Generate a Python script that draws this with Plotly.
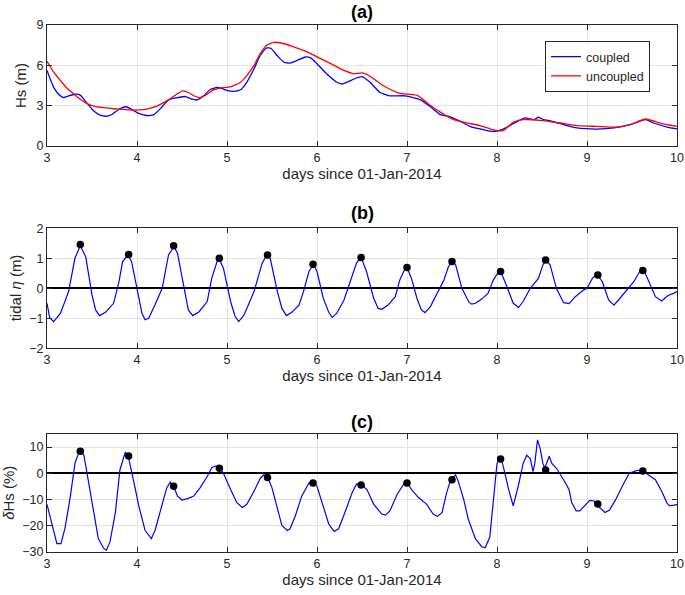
import plotly.graph_objects as go

# panel (a): significant wave height
hs_cpl_day = [3.0, 3.074, 3.13, 3.185, 3.24, 3.31, 3.37, 3.44, 3.52, 3.59, 3.67, 3.72, 3.81, 3.88,
              3.94, 4.02, 4.11, 4.19, 4.28, 4.35, 4.44, 4.54, 4.61, 4.67, 4.74, 4.81, 4.89, 4.94,
              5.0, 5.07, 5.15, 5.22, 5.3, 5.37, 5.44, 5.49, 5.56, 5.63, 5.7, 5.78, 5.87, 5.93,
              6.0, 6.07, 6.15, 6.22, 6.28, 6.35, 6.43, 6.5, 6.59, 6.7, 6.81, 6.98, 7.15, 7.26,
              7.37, 7.48, 7.59, 7.7, 7.85, 7.96, 8.07, 8.18, 8.31, 8.41, 8.46, 8.52, 8.57, 8.68,
              8.89, 9.11, 9.3, 9.48, 9.65, 9.74, 9.89, 10.0]
hs_cpl = [5.62, 4.36, 3.85, 3.6, 3.73, 3.85, 3.78, 3.22, 2.6, 2.29, 2.22, 2.34, 2.77, 2.92,
          2.72, 2.42, 2.27, 2.34, 2.92, 3.43, 3.58, 3.68, 3.48, 3.43, 3.73, 4.18, 4.36, 4.28,
          4.13, 4.06, 4.18, 4.74, 5.74, 6.75, 7.3, 7.25, 6.7, 6.25, 6.17, 6.37, 6.62, 6.55,
          6.12, 5.62, 5.11, 4.74, 4.61, 4.79, 5.04, 5.16, 4.74, 3.98, 3.73, 3.73, 3.43, 2.92,
          2.34, 2.17, 1.84, 1.46, 1.21, 1.08, 1.26, 1.66, 2.09, 1.96, 2.14, 1.96, 1.91, 1.71,
          1.34, 1.26, 1.34, 1.59, 1.96, 1.71, 1.41, 1.28]

hs_unc_day = [3.0, 3.074, 3.15, 3.22, 3.3, 3.37, 3.44, 3.52, 3.63, 3.74, 3.85, 3.96, 4.07, 4.17,
              4.26, 4.35, 4.44, 4.51, 4.57, 4.65, 4.7, 4.78, 4.85, 4.93, 5.0, 5.07, 5.15, 5.22,
              5.3, 5.37, 5.44, 5.52, 5.59, 5.74, 5.89, 6.04, 6.19, 6.3, 6.41, 6.5, 6.59, 6.63,
              6.74, 6.91, 7.11, 7.22, 7.37, 7.52, 7.67, 7.81, 7.93, 8.02, 8.07, 8.18, 8.29, 8.48,
              8.7, 8.89, 9.11, 9.33, 9.48, 9.65, 9.81, 10.0]
hs_unc = [6.3, 5.49, 4.86, 4.31, 3.85, 3.48, 3.17, 2.97, 2.85, 2.77, 2.72, 2.67, 2.7, 2.85,
          3.1, 3.43, 3.85, 4.1, 3.98, 3.68, 3.6, 3.85, 4.18, 4.33, 4.36, 4.48, 4.74, 5.24,
          6.0, 6.88, 7.5, 7.71, 7.68, 7.38, 7.0, 6.5, 6.0, 5.62, 5.37, 5.44, 5.19, 4.99,
          4.48, 3.93, 3.78, 3.22, 2.52, 1.96, 1.71, 1.51, 1.26, 1.13, 1.16, 1.76, 1.96, 1.91,
          1.71, 1.51, 1.46, 1.41, 1.59, 2.01, 1.71, 1.46]

# panel (b): tidal elevation
eta_day = [3.0, 3.03, 3.074, 3.15, 3.24, 3.31, 3.37, 3.43, 3.5, 3.54, 3.585, 3.65, 3.74, 3.8,
           3.84, 3.9, 3.94, 4.0, 4.055, 4.09, 4.13, 4.2, 4.28, 4.35, 4.41, 4.45, 4.52, 4.57,
           4.62, 4.69, 4.78, 4.83, 4.89, 4.91, 4.96, 5.04, 5.09, 5.13, 5.19, 5.3, 5.39, 5.44,
           5.48, 5.56, 5.61, 5.66, 5.72, 5.8, 5.85, 5.91, 5.96, 6.0, 6.07, 6.13, 6.17, 6.22,
           6.3, 6.37, 6.44, 6.49, 6.55, 6.63, 6.68, 6.72, 6.79, 6.87, 6.92, 6.98, 7.0, 7.05,
           7.11, 7.16, 7.2, 7.26, 7.33, 7.41, 7.46, 7.5, 7.54, 7.61, 7.69, 7.72, 7.76, 7.83,
           7.9, 7.96, 8.02, 8.05, 8.11, 8.18, 8.24, 8.29, 8.37, 8.46, 8.51, 8.54, 8.59, 8.66,
           8.74, 8.8, 8.87, 8.96, 9.0, 9.06, 9.11, 9.17, 9.24, 9.3, 9.35, 9.44, 9.52, 9.59,
           9.63, 9.68, 9.76, 9.83, 9.9, 9.96, 10.0]
eta = [-0.5, -0.98, -1.11, -0.83, -0.11, 1.0, 1.42, 1.05, -0.22, -0.72, -0.91, -0.8, -0.5, 0.22,
       0.89, 1.11, 0.89, -0.05, -0.83, -1.05, -1.0, -0.55, 0.0, 1.11, 1.39, 1.17, 0.0, -0.72,
       -0.91, -0.78, -0.44, 0.33, 0.89, 1.0, 0.67, -0.44, -0.94, -1.11, -0.89, -0.11, 0.83, 1.11,
       1.0, -0.11, -0.67, -0.91, -0.8, -0.56, -0.11, 0.56, 0.8, 0.56, -0.33, -0.8, -0.97, -0.83,
       -0.39, 0.22, 0.85, 1.03, 0.56, -0.33, -0.67, -0.7, -0.56, -0.28, 0.28, 0.67, 0.69, 0.33,
       -0.33, -0.72, -0.81, -0.61, -0.17, 0.28, 0.72, 0.89, 0.78, 0.0, -0.47, -0.53, -0.5, -0.36,
       -0.17, 0.28, 0.56, 0.5, 0.06, -0.5, -0.64, -0.44, 0.0, 0.33, 0.78, 0.94, 0.78, 0.0,
       -0.48, -0.51, -0.28, -0.06, 0.0, 0.33, 0.47, 0.22, -0.39, -0.56, -0.39, -0.06, 0.22, 0.58,
       0.61, 0.28, -0.28, -0.42, -0.24, -0.17, -0.11]

# high-water times and values
hw_day = [3.37, 3.907, 4.407, 4.915, 5.45, 5.956, 6.49, 7.0, 7.5, 8.04, 8.54, 9.12, 9.62]
hw_eta = [1.46, 1.13, 1.42, 1.0, 1.11, 0.8, 1.03, 0.69, 0.89, 0.56, 0.94, 0.44, 0.59]
hw_dhs = [8.4, 6.6, -5.0, 1.9, -1.6, -3.75, -4.5, -3.75, -2.5, 5.4, 1.25, -11.75, 0.9]

# panel (c): relative Hs difference
dhs_day = [3.0, 3.056, 3.11, 3.155, 3.2, 3.26, 3.31, 3.35, 3.38, 3.41, 3.46, 3.52, 3.57, 3.63,
           3.66, 3.7, 3.76, 3.81, 3.87, 3.9, 3.96, 4.02, 4.09, 4.16, 4.2, 4.28, 4.33, 4.37,
           4.41, 4.45, 4.5, 4.57, 4.63, 4.7, 4.78, 4.83, 4.87, 4.91, 4.96, 5.04, 5.11, 5.17,
           5.22, 5.3, 5.37, 5.41, 5.45, 5.5, 5.56, 5.61, 5.67, 5.7, 5.76, 5.83, 5.91, 5.96,
           6.0, 6.06, 6.13, 6.19, 6.24, 6.31, 6.39, 6.44, 6.49, 6.555, 6.63, 6.72, 6.76, 6.81,
           6.89, 6.96, 7.0, 7.05, 7.13, 7.22, 7.29, 7.34, 7.39, 7.44, 7.48, 7.5, 7.54, 7.57,
           7.63, 7.68, 7.76, 7.83, 7.87, 7.92, 7.96, 8.0, 8.04, 8.07, 8.13, 8.18, 8.24, 8.29,
           8.33, 8.37, 8.4, 8.42, 8.45, 8.48, 8.51, 8.53, 8.55, 8.58, 8.61, 8.66, 8.74, 8.8,
           8.83, 8.88, 8.92, 8.97, 9.03, 9.08, 9.1, 9.15, 9.2, 9.25, 9.32, 9.4, 9.47, 9.55,
           9.62, 9.68, 9.76, 9.83, 9.89, 9.92, 10.0]
dhs = [-11.9, -20.0, -26.9, -26.9, -21.0, -8.75, 3.75, 7.5, 8.5, 6.9, -2.5, -15.0, -25.0, -28.75,
       -29.4, -26.25, -15.0, 1.25, 8.1, 6.9, -2.5, -12.5, -21.9, -25.0, -21.9, -11.25, -5.6, -3.4,
       -5.25, -8.75, -10.25, -9.6, -8.75, -5.6, -1.25, 2.1, 2.75, 2.5, 0.0, -6.25, -11.25, -13.1,
       -11.9, -6.9, -1.9, -0.6, -1.25, -5.6, -13.75, -20.0, -21.9, -21.25, -16.25, -8.75, -3.75, -3.75,
       -5.0, -11.25, -19.4, -22.25, -21.25, -15.0, -7.5, -4.1, -4.3, -6.25, -11.9, -15.6, -16.0, -14.4,
       -8.1, -4.4, -3.5, -6.25, -9.4, -11.9, -15.6, -16.5, -15.0, -7.5, -3.1, -2.25, -0.6, -3.1,
       -10.0, -17.5, -25.0, -28.1, -28.4, -24.4, -11.25, 3.75, 6.25, 2.5, -6.25, -12.5, -4.4, 3.75,
       6.9, 5.6, 0.6, 3.75, 12.75, 9.4, 3.75, 1.9, 3.75, 6.5, 3.75, 1.9, -2.5, -6.25,
       -11.25, -14.4, -14.4, -12.5, -10.4, -10.6, -11.9, -13.4, -15.0, -14.1, -10.0, -4.4, 0.0, 1.0,
       1.25, -0.6, -2.5, -6.9, -11.5, -12.5, -12.0]

FONT = "Liberation Sans, Arial, sans-serif"
BLUE = "#0000ff"
RED = "#ff0000"
INK = "#262626"

fig = go.Figure()

fig.add_trace(go.Scatter(x=hs_cpl_day, y=hs_cpl, mode="lines", name="coupled",
                         line=dict(color=BLUE, width=1.3, shape="spline", smoothing=0.5),
                         xaxis="x", yaxis="y"))
fig.add_trace(go.Scatter(x=hs_unc_day, y=hs_unc, mode="lines", name="uncoupled",
                         line=dict(color=RED, width=1.3, shape="spline", smoothing=0.5),
                         xaxis="x", yaxis="y"))

fig.add_trace(go.Scatter(x=eta_day, y=eta, mode="lines", showlegend=False,
                         line=dict(color=BLUE, width=1.2), xaxis="x2", yaxis="y2"))
fig.add_trace(go.Scatter(x=hw_day, y=hw_eta, mode="markers", showlegend=False,
                         marker=dict(color="black", size=7.5), xaxis="x2", yaxis="y2"))

fig.add_trace(go.Scatter(x=dhs_day, y=dhs, mode="lines", showlegend=False,
                         line=dict(color=BLUE, width=1.2), xaxis="x3", yaxis="y3"))
fig.add_trace(go.Scatter(x=hw_day, y=hw_dhs, mode="markers", showlegend=False,
                         marker=dict(color="black", size=7.5), xaxis="x3", yaxis="y3"))

H = 595.0
L = 47.0
PW = 630.0
domains = [[1 - 146 / H, 1 - 25 / H], [1 - 348.3 / H, 1 - 228.3 / H], [1 - 551.7 / H, 1 - 434 / H]]


def xax(anchor):
    return dict(range=[3, 10], dtick=1, anchor=anchor, automargin=False, showline=True,
                linecolor=INK, linewidth=1, mirror="ticks", ticks="inside", ticklen=5,
                tickcolor=INK, showgrid=True, gridcolor="#e3e3e3", gridwidth=1, zeroline=False,
                ticklabeloverflow="allow", tickfont=dict(size=12.5, color=INK),
                title=dict(text="days since 01-Jan-2014", standoff=4,
                           font=dict(size=15, color=INK)))


def yax(anchor, dom, rng, tickvals, zero):
    return dict(domain=dom, range=rng, tickvals=tickvals, anchor=anchor, automargin=False,
                showline=True, linecolor=INK, linewidth=1, mirror="ticks", ticks="inside",
                ticklen=5, tickcolor=INK, showgrid=True, gridcolor="#e3e3e3", gridwidth=1,
                zeroline=zero, zerolinecolor="black", zerolinewidth=1.5,
                tickfont=dict(size=12.5, color=INK))


fig.update_layout(
    width=685, height=595,
    margin=dict(l=L, r=8, t=0, b=0, autoexpand=False),
    paper_bgcolor="white", plot_bgcolor="white",
    font=dict(family=FONT, color=INK),
    xaxis=xax("y"),
    xaxis2=xax("y2"),
    xaxis3=xax("y3"),
    yaxis=yax("x", domains[0], [0, 9], [0, 3, 6, 9], False),
    yaxis2=yax("x2", domains[1], [-2, 2], [-2, -1, 0, 1, 2], True),
    yaxis3=yax("x3", domains[2], [-30, 15], [-30, -20, -10, 0, 10], True),
    legend=dict(x=(545 - L) / PW, y=1 - 41 / H, xanchor="left", yanchor="top",
                bgcolor="white", bordercolor=INK, borderwidth=1,
                font=dict(size=12.5, color=INK), tracegroupgap=0),
    showlegend=True,
)

# panel titles
for label, ypix in [("(a)", 11.7), ("(b)", 213), ("(c)", 421.7)]:
    fig.add_annotation(text="<b>" + label + "</b>", x=0.5, y=1 - ypix / H, xref="paper",
                       yref="paper", xanchor="center", yanchor="middle", showarrow=False,
                       font=dict(size=18, color="black"))

# y-axis titles, placed like the original
ytitles = ["Hs (m)", "tidal <i>η</i> (m)", "<i>δ</i>Hs (%)"]
ytitle_px = [20.5, 15.0, 9.0]
for text, xpix, dom in zip(ytitles, ytitle_px, domains):
    fig.add_annotation(text=text, x=(xpix - L) / PW, y=(dom[0] + dom[1]) / 2, xref="paper",
                       yref="paper", xanchor="center", yanchor="middle", textangle=-90,
                       showarrow=False, font=dict(size=15, color=INK))

# the page's default body margin would shift the figure by 8 px
fig.write_html("out.html", config={"displayModeBar": False},
               post_script="document.body.style.margin = '0';")
